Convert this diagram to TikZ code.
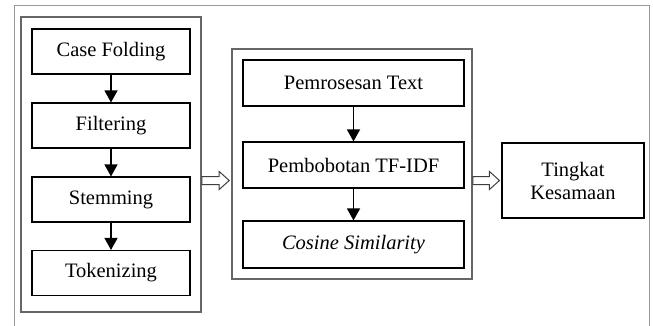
\documentclass[tikz,border=0pt]{standalone}
\usepackage{fontspec}
\setmainfont{Liberation Serif}
\usetikzlibrary{arrows.meta,calc}
\begin{document}
\begin{tikzpicture}[x=1pt,y=-1pt,
  box/.style={draw=black, line width=1.1pt, inner sep=0pt, font=\fontsize{20.5}{23}\selectfont, align=center},
  grp/.style={draw=black!60, line width=1.6pt, inner sep=0pt},
  flow/.style={-{Triangle[length=12pt,width=13pt]}, line width=1.3pt},
  hollow/.style={draw=black!75, line width=1pt, fill=white, line join=miter}]
\useasboundingbox (0,0) rectangle (653,326);
\draw[black!40, line width=0.8pt] (14,326) -- (14,5.5) -- (649,5.5) -- (649,326);

% left group
\node[grp, minimum width=180pt, minimum height=295pt] (g1) at (111,164.5) {};
\node[box, minimum width=158pt, minimum height=45pt] (cf) at (111,51.5) {Case Folding};
\node[box, minimum width=158pt, minimum height=45pt] (fi) at (111,125.5) {Filtering};
\node[box, minimum width=158pt, minimum height=45pt] (st) at (111,199.5) {Stemming};
\node[box, minimum width=158pt, minimum height=45pt] (to) at (111,273) {Tokenizing};
\draw[flow] (cf) -- (fi);
\draw[flow] (fi) -- (st);
\draw[flow] (st) -- (to);

% middle group
\node[grp, minimum width=240pt, minimum height=230pt] (g2) at (352,164) {};
\node[box, minimum width=221pt, minimum height=46pt] (pt) at (353.5,83) {Pemrosesan Text};
\node[box, minimum width=221pt, minimum height=46pt] (pb) at (353.5,165) {Pembobotan TF-IDF};
\node[box, minimum width=221pt, minimum height=47pt] (cs) at (353.5,244.5) {\itshape Cosine Similarity};
\draw[flow] (pt) -- (pb);
\draw[flow] (pb) -- (cs);

% result
\node[box, minimum width=142pt, minimum height=75pt] (tk) at (573,180.5) {Tingkat\\Kesamaan};

% hollow arrows
\coordinate (a1) at (g1.east |- tk.west);
\coordinate (b1) at ($(g2.west |- tk.west)+(-2,0)$);
\coordinate (a2) at (g2.east |- tk.west);
\coordinate (b2) at ($(tk.west)+(-2,0)$);
\draw[hollow] ($(a1)+(0,-4)$) -- ($(b1)+(-10,-4)$) -- ($(b1)+(-10,-9)$) -- (b1) -- ($(b1)+(-10,9)$) -- ($(b1)+(-10,4)$) -- ($(a1)+(0,4)$) -- cycle;
\draw[hollow] ($(a2)+(0,-4)$) -- ($(b2)+(-10,-4)$) -- ($(b2)+(-10,-9)$) -- (b2) -- ($(b2)+(-10,9)$) -- ($(b2)+(-10,4)$) -- ($(a2)+(0,4)$) -- cycle;
\end{tikzpicture}
\end{document}
